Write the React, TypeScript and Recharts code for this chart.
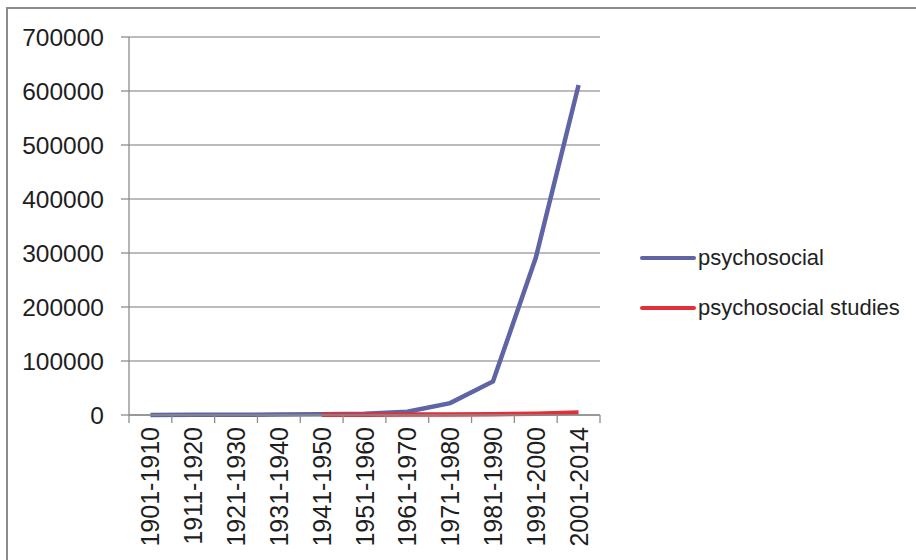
import React from 'react';
import { LineChart, Line, XAxis, YAxis, CartesianGrid, Legend } from 'recharts';

const categories = ['1901-1910', '1911-1920', '1921-1930', '1931-1940', '1941-1950', '1951-1960', '1961-1970', '1971-1980', '1981-1990', '1991-2000', '2001-2014'];
const psychosocial = [200, 300, 500, 800, 1500, 2500, 6000, 22000, 62000, 291000, 611000];
const psychosocialStudies = [null, null, null, null, 300, 500, 700, 900, 1500, 2500, 4500];
const yTicks = [0, 100000, 200000, 300000, 400000, 500000, 600000, 700000];

const data = categories.map((c, i) => ({
  x: i + 0.5,
  name: c,
  psychosocial: psychosocial[i],
  studies: psychosocialStudies[i],
}));

const boundaryTicks = categories.map((_, i) => i).concat([categories.length]);
const centerTicks = categories.map((_, i) => i + 0.5);

const FONT = '"Liberation Sans", Arial, sans-serif';

const XLabel = (props: any) => {
  const { x, y, payload } = props;
  const label = categories[Math.floor(payload.value)];
  return (
    <text
      x={x}
      y={y}
      transform={`rotate(-90 ${x} ${y})`}
      textAnchor="end"
      dominantBaseline="central"
      fontSize={25}
      fontFamily={FONT}
      fill="#1e1e1e"
    >
      {label}
    </text>
  );
};

const LegendContent = (props: any) => {
  const { payload } = props;
  return (
    <div style={{ fontFamily: FONT, fontSize: 22, color: '#222' }}>
      {(payload || []).map((p: any) => (
        <div key={p.value} style={{ display: 'flex', alignItems: 'center', height: 50 }}>
          <div style={{ width: 56, height: 4, background: p.color, borderRadius: 2, marginRight: 2 }} />
          <span>{p.value}</span>
        </div>
      ))}
    </div>
  );
};

export default function App() {
  return (
    <div style={{ position: 'absolute', left: 0, top: 0, width: 916, height: 560, background: '#fff' }}>
      <div style={{ position: 'absolute', left: 6, top: 7, width: 910, height: 553, borderLeft: '2px solid #8c8c8c', borderTop: '2px solid #8c8c8c', boxSizing: 'border-box' }} />
      <LineChart width={916} height={560} data={data} margin={{ top: 37, right: 316, bottom: 0, left: 0 }}>
        <CartesianGrid xAxisId="a_ticks" vertical={false} stroke="#a6a6a6" strokeWidth={1.3} />
        <XAxis
          xAxisId="a_ticks"
          type="number"
          dataKey="x"
          domain={[0, categories.length]}
          ticks={boundaryTicks}
          tickFormatter={() => ''}
          tickSize={8}
          height={8}
          axisLine={{ stroke: '#8c8c8c', strokeWidth: 1.3 }}
          tickLine={{ stroke: '#8c8c8c', strokeWidth: 1.3 }}
          interval={0}
        />
        <XAxis
          xAxisId="b_labels"
          type="number"
          dataKey="x"
          domain={[0, categories.length]}
          ticks={centerTicks}
          tick={<XLabel />}
          tickSize={0}
          tickMargin={4}
          height={137}
          axisLine={false}
          tickLine={false}
          interval={0}
        />
        <YAxis
          type="number"
          domain={[0, 700000]}
          ticks={yTicks}
          width={129}
          tickSize={8}
          tickMargin={17}
          interval={0}
          axisLine={{ stroke: '#8c8c8c', strokeWidth: 1.3 }}
          tickLine={{ stroke: '#8c8c8c', strokeWidth: 1.3 }}
          tick={{ fontSize: 24.5, fontFamily: FONT, fill: '#1e1e1e' }}
        />
        <Legend
          layout="vertical"
          verticalAlign="middle"
          align="center"
          content={<LegendContent />}
          wrapperStyle={{ position: 'absolute', left: 640, top: 233, width: 270 }}
        />
        <Line
          xAxisId="a_ticks"
          type="linear"
          dataKey="psychosocial"
          name="psychosocial"
          stroke="#5f64a4"
          strokeWidth={4.5}
          dot={false}
          activeDot={false}
          isAnimationActive={false}
        />
        <Line
          xAxisId="a_ticks"
          type="linear"
          dataKey="studies"
          name="psychosocial studies"
          stroke="#e0303a"
          strokeWidth={4.5}
          dot={false}
          activeDot={false}
          isAnimationActive={false}
        />
      </LineChart>
    </div>
  );
}
